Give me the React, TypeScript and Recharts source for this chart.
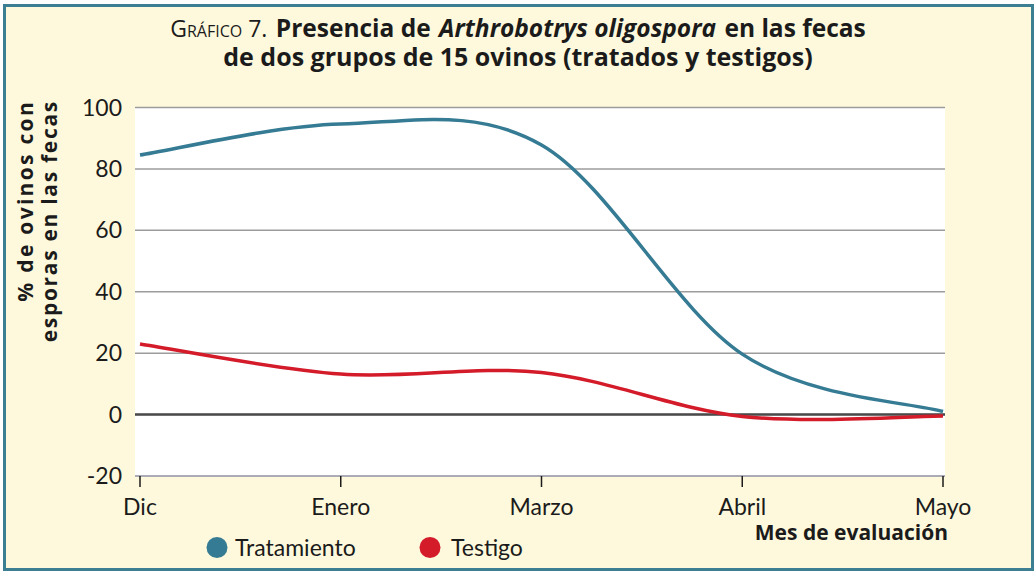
import React from "react";
import {
  LineChart,
  Line,
  XAxis,
  YAxis,
  CartesianGrid,
  ReferenceLine,
} from "recharts";

// Meses de evaluación y % de ovinos con esporas en las fecas
const months = ["Dic", "Enero", "Marzo", "Abril", "Mayo"];
const tratamiento = [84.5, 94.6, 87.8, 19.7, 1];
const testigo = [23, 13.2, 13.7, -0.6, -0.5];
const yTicks = [-20, 0, 20, 40, 60, 80, 100];

const TEAL = "#357b93";
const RED = "#d41b2a";
const CREAM = "#fef9dc";
const INK = "#1b1b1b";
const BOLD_FONT = "'Open Sans', 'Noto Sans', sans-serif";
const FONT = "Lato, 'Open Sans', sans-serif";

const data = months.map((m, i) => ({
  month: m,
  tratamiento: tratamiento[i],
  testigo: testigo[i],
}));

// smoothed line like the spreadsheet "suavizado" (Catmull-Rom style bezier)
function smoothCurve(context: any) {
  let pts: number[][] = [];
  return {
    areaStart() {},
    areaEnd() {},
    lineStart() {
      pts = [];
    },
    point(x: number, y: number) {
      pts.push([+x, +y]);
    },
    lineEnd() {
      const n = pts.length;
      if (!n) return;
      context.moveTo(pts[0][0], pts[0][1]);
      for (let i = 0; i < n - 1; i++) {
        const p0 = pts[Math.max(i - 1, 0)];
        const p1 = pts[i];
        const p2 = pts[i + 1];
        const p3 = pts[Math.min(i + 2, n - 1)];
        context.bezierCurveTo(
          p1[0] + (p2[0] - p0[0]) / 6,
          p1[1] + (p2[1] - p0[1]) / 6,
          p2[0] - (p3[0] - p1[0]) / 6,
          p2[1] - (p3[1] - p1[1]) / 6,
          p2[0],
          p2[1]
        );
      }
    },
  };
}

const titleLine: React.CSSProperties = {
  position: "absolute",
  left: 0,
  width: 1036,
  textAlign: "center",
  fontFamily: BOLD_FONT,
  color: INK,
  lineHeight: "28px",
  whiteSpace: "nowrap",
};

function Title() {
  return (
    <>
      <div style={{ ...titleLine, top: 13.5, fontSize: 24.5 }}>
        <span style={{ fontSize: 23, fontVariant: "small-caps", marginRight: 2 }}>
          Gráfico 7.
        </span>{" "}
        <b>Presencia de</b>{" "}
        <b style={{ display: "inline-block", margin: "0 2px" }}>
          <i>Arthrobotrys oligospora</i>
        </b>{" "}
        <b>en las fecas</b>
      </div>
      <div style={{ ...titleLine, top: 42.3, fontSize: 25, fontWeight: "bold" }}>
        de dos grupos de 15 ovinos (tratados y testigos)
      </div>
    </>
  );
}

function Overlay() {
  return (
    <svg
      width={1036}
      height={572}
      style={{ position: "absolute", left: 0, top: 0, pointerEvents: "none" }}
      fontFamily={BOLD_FONT}
      fill={INK}
    >
      <g fontSize={21} fontWeight="bold" textAnchor="end">
        <text transform="translate(33,100) rotate(-90)" letterSpacing={2.3}>
          % de ovinos con
        </text>
        <text transform="translate(57,100) rotate(-90)" letterSpacing={1.7}>
          esporas en las fecas
        </text>
      </g>

      <text x={948} y={540} textAnchor="end" fontSize={21} fontWeight="bold">
        Mes de evaluación
      </text>

      <g fontFamily={FONT} fontSize={23}>
        <circle cx={217} cy={547.5} r={10.5} fill={TEAL} />
        <text x={235} y={556}>
          Tratamiento
        </text>
        <circle cx={430} cy={547.5} r={10.5} fill={RED} />
        <text x={451} y={556}>
          Testigo
        </text>
      </g>
    </svg>
  );
}

export default function App() {
  return (
    <div
      style={{
        position: "absolute",
        left: 0,
        top: 0,
        width: 1036,
        height: 572,
        background: "#ffffff",
      }}
    >
      <div
        style={{
          position: "absolute",
          left: 3,
          top: 4,
          width: 1031,
          height: 567,
          boxSizing: "border-box",
          border: "3px solid #3c7f93",
          background: CREAM,
        }}
      />
      <div style={{ position: "absolute", left: 0, top: 0 }}>
        <LineChart
          width={1036}
          height={572}
          data={data}
          margin={{ top: 107.5, right: 91, bottom: 66, left: 75 }}
        >
          <CartesianGrid
            vertical={false}
            stroke="#9c9c9c"
            strokeWidth={1.5}
            fill="#ffffff"
            fillOpacity={1}
          />
          <XAxis
            dataKey="month"
            height={30}
            padding={{ left: 5, right: 2 }}
            axisLine={{ stroke: "#a9aab6", strokeWidth: 1.5 }}
            tickLine={{ stroke: INK, strokeWidth: 1.5 }}
            tickSize={11}
            tickMargin={12}
            tick={{ fill: INK, fontSize: 23, fontFamily: FONT }}
          />
          <YAxis
            width={60}
            domain={[-20, 100]}
            ticks={yTicks}
            interval={0}
            axisLine={false}
            tickLine={false}
            tickSize={0}
            tickMargin={13}
            tick={{ fill: INK, fontSize: 23, fontFamily: FONT }}
          />
          <ReferenceLine y={0} stroke="#4a4a4a" strokeWidth={2.5} />
          <Line
            dataKey="tratamiento"
            type={smoothCurve as any}
            stroke={TEAL}
            strokeWidth={3.5}
            dot={false}
            activeDot={false}
            isAnimationActive={false}
          />
          <Line
            dataKey="testigo"
            type={smoothCurve as any}
            stroke={RED}
            strokeWidth={3.5}
            dot={false}
            activeDot={false}
            isAnimationActive={false}
          />
        </LineChart>
      </div>
      <Overlay />
      <Title />
    </div>
  );
}
